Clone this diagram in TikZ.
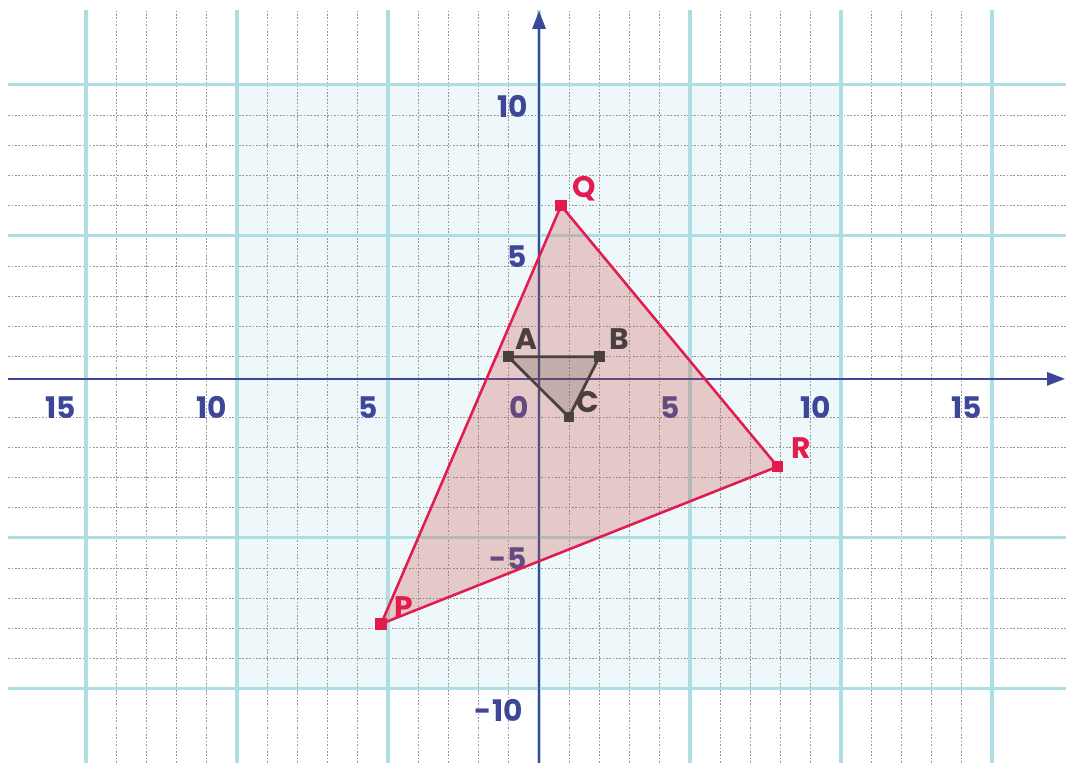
\documentclass[tikz,border=0pt]{standalone}
\usepackage{fontspec}
\setmainfont{Poppins}
\usepackage{xcolor}
\usepackage{tikz}
\usetikzlibrary{arrows.meta}
\definecolor{axisblue}{RGB}{62,70,152}
\definecolor{gridcyan}{RGB}{174,222,226}
\definecolor{shadeblue}{RGB}{238,247,249}
\definecolor{crimson}{RGB}{226,27,80}
\definecolor{pinkfill}{RGB}{205,85,75}
\definecolor{darkgrey}{RGB}{74,64,64}
\definecolor{dotgrey}{RGB}{150,150,150}
\tikzset{
  gridline/.style={dotgrey,line width=0.5pt,dash pattern=on 0.8pt off 0.8pt},
  majorline/.style={gridcyan,line width=1.5pt},
  axisline/.style={axisblue,line width=1.2pt,-{Triangle[length=8.5pt,width=6.2pt]}},
  axislabel/.style={text=axisblue,font=\fontsize{14}{16}\selectfont\bfseries,inner sep=0pt,anchor=north east},
  vertexmark/.style={rectangle,inner sep=0pt,minimum size=#1},
  vertexlabel/.style={text=#1,font=\fontsize{14}{16}\selectfont\bfseries,inner sep=0pt}
}

\begin{document}
\begin{tikzpicture}[x=0.5cm,y=0.5cm]
\useasboundingbox (-17.85,-12.45) rectangle (17.45,12.81);
% shaded square
\fill[shadeblue](-10,-10)rectangle(10,10);
% grid
\foreach \y in {-10,...,-1,1,2,...,10} \draw[gridline](-17.58,\y)--(17.45,\y);
\foreach \x in {-15,...,15} \draw[gridline](\x,-12.45)--(\x,12.48);
\foreach \y in {-10,-5,5,10} \draw[majorline](-17.58,\y)--(17.45,\y);
\foreach \x in {-15,-10,...,15} \draw[majorline](\x,-12.45)--(\x,12.48);
% axes
\coordinate (xstart) at (-17.58,0.265);
\coordinate (xend) at (17.42,0.265);
\coordinate (ystart) at (0,-12.45);
\coordinate (yend) at (0,12.45);
\draw[axisline](xstart)--(xend);
\draw[axisline](ystart)--(yend);
\foreach \x/\t in {-15/15,-10/10,-5/5,0/0,5/5,10/10,15/15}
  \node[axislabel](xlab\x) at (\x-0.31,-0.31) {\t};
\foreach \y/\t/\d in {10/10/0.36,5/5/0.38,-5/-5/0.40,-10/-10/0.53}
  \node[axislabel](ylab\y) at (-\d,\y-0.33) {\t};
% triangles
\coordinate (P) at (-5.23,-7.85);
\coordinate (Q) at (0.73,6.00);
\coordinate (R) at (7.90,-2.64);
\coordinate (A) at (-1.02,1.00);
\coordinate (B) at (2.00,1.00);
\coordinate (C) at (0.99,-1.00);
\fill[pinkfill,fill opacity=0.28](P)--(Q)--(R)--cycle;
\fill[darkgrey,fill opacity=0.2](A)--(B)--(C)--cycle;
\draw[crimson,line width=1.2pt](P)--(Q)--(R)--cycle;
\draw[darkgrey,line width=1.3pt](A)--(B)--(C)--cycle;
\foreach \v in {P,Q,R} \node[vertexmark=5.5pt,fill=crimson](mark\v) at (\v) {};
\foreach \v in {A,B,C} \node[vertexmark=5pt,fill=darkgrey](mark\v) at (\v) {};
\node[vertexlabel=crimson](labP) at (-4.49,-7.28) {P};
\node[vertexlabel=crimson](labQ) at (1.51,6.56) {Q};
\node[vertexlabel=crimson](labR) at (8.68,-2.04) {R};
\node[vertexlabel=darkgrey](labA) at (-0.41,1.59) {A};
\node[vertexlabel=darkgrey](labB) at (2.65,1.59) {B};
\node[vertexlabel=darkgrey](labC) at (1.61,-0.51) {C};
\end{tikzpicture}
\end{document}
